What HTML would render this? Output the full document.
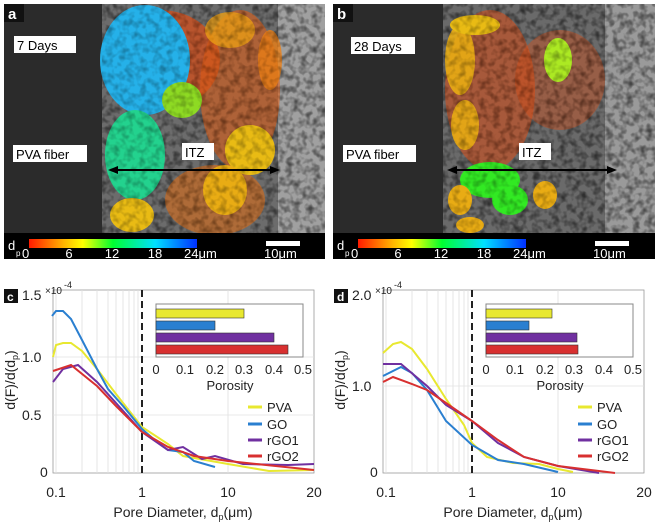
<!DOCTYPE html>
<html><head><meta charset="utf-8"><style>
html,body{margin:0;padding:0;background:#fff}
svg{display:block;font-family:"Liberation Sans",Arial,sans-serif}
</style></head><body>
<svg width="660" height="524" viewBox="0 0 660 524" xmlns="http://www.w3.org/2000/svg">
<defs>
<linearGradient id="cb" x1="0" x2="1" y1="0" y2="0">
<stop offset="0" stop-color="#ff1a00"/><stop offset="0.2" stop-color="#ffb000"/><stop offset="0.32" stop-color="#ffff00"/><stop offset="0.5" stop-color="#00ff30"/><stop offset="0.75" stop-color="#00e0ff"/><stop offset="1" stop-color="#0030ff"/>
</linearGradient>
<filter id="mot" x="0" y="0" width="1" height="1"><feTurbulence type="fractalNoise" baseFrequency="0.15" numOctaves="2" seed="3"/><feColorMatrix type="matrix" values="0 0 0 0 0  0 0 0 0 0  0 0 0 0 0  0 0 0 -2.2 1.3"/><feComposite in2="SourceGraphic" operator="in"/></filter>
</defs>
<rect width="660" height="524" fill="#fff"/>

<!-- Panel a -->
<g>
<rect x="4" y="4" width="321" height="229" fill="#6c6c6c"/>
<rect x="4" y="4" width="98" height="229" fill="#2b2b2b"/>
<rect x="278" y="4" width="47" height="229" fill="#a0a0a0"/>
<rect x="102" y="4" width="223" height="229" fill="#555" filter="url(#mot)" opacity="0.35"/>
<g opacity="0.95">
<ellipse cx="160" cy="60" rx="60" ry="50" fill="#e04a10" opacity="0.7"/>
<ellipse cx="240" cy="90" rx="40" ry="80" fill="#e05a10" opacity="0.6"/>
<ellipse cx="215" cy="200" rx="50" ry="35" fill="#e06a10" opacity="0.6"/>
<ellipse cx="145" cy="60" rx="45" ry="55" fill="#22b5f0"/>
<ellipse cx="135" cy="155" rx="30" ry="45" fill="#20d890"/>
<ellipse cx="182" cy="100" rx="20" ry="18" fill="#90e020"/>
<ellipse cx="250" cy="150" rx="25" ry="25" fill="#f0c010"/>
<ellipse cx="225" cy="190" rx="22" ry="25" fill="#f0b010"/>
<ellipse cx="132" cy="215" rx="22" ry="17" fill="#f0c010"/>
<ellipse cx="230" cy="30" rx="25" ry="18" fill="#f0a010" opacity="0.8"/>
<ellipse cx="270" cy="60" rx="12" ry="30" fill="#f08010" opacity="0.8"/>
</g>
<rect x="102" y="4" width="223" height="229" fill="#333" filter="url(#mot)" opacity="0.3"/>
<rect x="4" y="4" width="20" height="18" fill="#111"/>
<text x="8" y="19" font-size="15" font-weight="bold" fill="#fff">a</text>
<rect x="14" y="36" width="62" height="17" fill="#fff"/>
<text x="17" y="50" font-size="13" fill="#000">7 Days</text>
<rect x="13" y="145" width="74" height="17" fill="#fff"/>
<text x="16" y="159" font-size="13" fill="#000">PVA fiber</text>
<rect x="182" y="143" width="32" height="17" fill="#fff"/>
<text x="185" y="157" font-size="13" fill="#000">ITZ</text>
<line x1="114" y1="170" x2="274" y2="170" stroke="#000" stroke-width="2"/>
<polygon points="108,170 118,166 118,174" fill="#000"/><polygon points="280,170 270,166 270,174" fill="#000"/>
<rect x="4" y="233" width="321" height="26" fill="#000"/>
<rect x="29" y="239" width="168" height="9" fill="url(#cb)"/>
<text x="8" y="250" font-size="13" fill="#fff">d</text><text x="16" y="256" font-size="8" fill="#fff">p</text>
<text x="22" y="258" font-size="13" fill="#fff">0</text>
<text x="69" y="258" font-size="13" fill="#fff" text-anchor="middle">6</text>
<text x="112" y="258" font-size="13" fill="#fff" text-anchor="middle">12</text>
<text x="155" y="258" font-size="13" fill="#fff" text-anchor="middle">18</text>
<text x="184" y="258" font-size="13" fill="#fff">24μm</text>
<rect x="266" y="241" width="34" height="5" fill="#fff"/>
<text x="264" y="258" font-size="13" fill="#fff">10μm</text>
</g>

<!-- Panel b -->
<g>
<rect x="333" y="4" width="322" height="229" fill="#6a6a6a"/>
<rect x="333" y="4" width="110" height="229" fill="#2b2b2b"/>
<rect x="605" y="4" width="50" height="229" fill="#9a9a9a"/>
<rect x="443" y="4" width="212" height="229" fill="#555" filter="url(#mot)" opacity="0.35"/>
<g opacity="0.95">
<ellipse cx="490" cy="90" rx="45" ry="80" fill="#e04a10" opacity="0.55"/>
<ellipse cx="560" cy="80" rx="45" ry="50" fill="#e04a10" opacity="0.4"/>
<ellipse cx="460" cy="60" rx="15" ry="35" fill="#f0b010" opacity="0.9"/>
<ellipse cx="475" cy="25" rx="25" ry="10" fill="#f0c010"/>
<ellipse cx="558" cy="60" rx="14" ry="22" fill="#b0f020"/>
<ellipse cx="465" cy="125" rx="14" ry="25" fill="#f0b010" opacity="0.9"/>
<ellipse cx="490" cy="180" rx="30" ry="18" fill="#30f020"/>
<ellipse cx="510" cy="200" rx="18" ry="15" fill="#30f020"/>
<ellipse cx="460" cy="200" rx="12" ry="15" fill="#f0b010"/>
<ellipse cx="545" cy="195" rx="12" ry="14" fill="#f0b010"/>
<ellipse cx="470" cy="225" rx="14" ry="8" fill="#f0b010"/>
</g>
<rect x="443" y="4" width="212" height="229" fill="#333" filter="url(#mot)" opacity="0.3"/>
<rect x="333" y="4" width="20" height="18" fill="#111"/>
<text x="337" y="19" font-size="15" font-weight="bold" fill="#fff">b</text>
<rect x="351" y="37" width="64" height="17" fill="#fff"/>
<text x="354" y="51" font-size="13" fill="#000">28 Days</text>
<rect x="343" y="145" width="73" height="17" fill="#fff"/>
<text x="346" y="159" font-size="13" fill="#000">PVA fiber</text>
<rect x="519" y="143" width="32" height="17" fill="#fff"/>
<text x="522" y="157" font-size="13" fill="#000">ITZ</text>
<line x1="453" y1="170" x2="611" y2="170" stroke="#000" stroke-width="2"/>
<polygon points="447,170 457,166 457,174" fill="#000"/><polygon points="617,170 607,166 607,174" fill="#000"/>
<rect x="333" y="233" width="322" height="26" fill="#000"/>
<rect x="358" y="239" width="168" height="9" fill="url(#cb)"/>
<text x="337" y="250" font-size="13" fill="#fff">d</text><text x="345" y="256" font-size="8" fill="#fff">p</text>
<text x="351" y="258" font-size="13" fill="#fff">0</text>
<text x="398" y="258" font-size="13" fill="#fff" text-anchor="middle">6</text>
<text x="441" y="258" font-size="13" fill="#fff" text-anchor="middle">12</text>
<text x="484" y="258" font-size="13" fill="#fff" text-anchor="middle">18</text>
<text x="513" y="258" font-size="13" fill="#fff">24μm</text>
<rect x="595" y="241" width="34" height="5" fill="#fff"/>
<text x="593" y="258" font-size="13" fill="#fff">10μm</text>
</g>

<!-- Chart c -->
<g>
<rect x="53" y="290" width="261" height="183" fill="#fff" stroke="#999" stroke-width="0.8"/>
<g stroke="#e0e0e0" stroke-width="0.8">
<line x1="56" y1="290" x2="56" y2="473"/><line x1="82" y1="290" x2="82" y2="473"/><line x1="97" y1="290" x2="97" y2="473"/><line x1="108" y1="290" x2="108" y2="473"/><line x1="116" y1="290" x2="116" y2="473"/><line x1="123" y1="290" x2="123" y2="473"/><line x1="129" y1="290" x2="129" y2="473"/><line x1="134" y1="290" x2="134" y2="473"/><line x1="138" y1="290" x2="138" y2="473"/>
<line x1="228" y1="290" x2="228" y2="473"/>
<line x1="53" y1="415" x2="314" y2="415"/><line x1="53" y1="357" x2="314" y2="357"/>
</g>
<line x1="142" y1="290" x2="142" y2="473" stroke="#222" stroke-width="2" stroke-dasharray="7,4"/>
<g fill="none" stroke-width="2">
<polyline stroke="#e8e830" points="53,357 56,345 63,343 71,343 82,351 97,369 116,394 142,427 168,444 183,456 228,464 269,471 314,470"/>
<polyline stroke="#2a7fd0" points="52,316 56,311 63,311 71,319 82,340 97,369 108,389 123,406 142,429 157,442 168,450 183,452 194,461 215,467"/>
<polyline stroke="#7030a0" points="53,382 63,369 78,365 97,382 116,403 142,432 168,450 183,447 202,459 215,456 243,464 288,465 314,464"/>
<polyline stroke="#d83030" points="53,371 71,365 97,386 116,406 142,432 168,447 194,456 228,461 314,470"/>
</g>
<rect x="156" y="304" width="147" height="53" fill="#fff" stroke="#888"/>
<rect x="156" y="309" width="88" height="9" fill="#e8e830" stroke="#333" stroke-width="0.6"/>
<rect x="156" y="321" width="59" height="9" fill="#2a7fd0" stroke="#333" stroke-width="0.6"/>
<rect x="156" y="333" width="118" height="9" fill="#7030a0" stroke="#333" stroke-width="0.6"/>
<rect x="156" y="345" width="132" height="9" fill="#d83030" stroke="#333" stroke-width="0.6"/>
<g font-size="13" fill="#222" text-anchor="middle">
<text x="156" y="374">0</text><text x="185" y="374">0.1</text><text x="215" y="374">0.2</text><text x="244" y="374">0.3</text><text x="274" y="374">0.4</text><text x="303" y="374">0.5</text>
<text x="230" y="390">Porosity</text>
</g>
<g font-size="13" fill="#222">
<line x1="248" y1="407" x2="262" y2="407" stroke="#e8e830" stroke-width="3"/><text x="267" y="412">PVA</text>
<line x1="248" y1="424" x2="262" y2="424" stroke="#2a7fd0" stroke-width="3"/><text x="267" y="429">GO</text>
<line x1="248" y1="440" x2="262" y2="440" stroke="#7030a0" stroke-width="3"/><text x="267" y="445">rGO1</text>
<line x1="248" y1="456" x2="262" y2="456" stroke="#d83030" stroke-width="3"/><text x="267" y="461">rGO2</text>
</g>
<rect x="4" y="289" width="14" height="14" fill="#111"/><text x="7" y="301" font-size="12" font-weight="bold" fill="#fff">c</text>
<g font-size="14" fill="#222">
<text x="22" y="300">1.5</text><text x="45" y="294" font-size="10">×10</text><text x="64" y="288" font-size="9">-4</text>
<text x="22" y="362">1.0</text><text x="22" y="420">0.5</text><text x="40" y="477">0</text>
<text x="56" y="497" text-anchor="middle">0.1</text><text x="142" y="497" text-anchor="middle">1</text><text x="228" y="497" text-anchor="middle">10</text><text x="314" y="497" text-anchor="middle">20</text>
<text x="183" y="517" text-anchor="middle">Pore Diameter, d<tspan font-size="9" dy="3">p</tspan><tspan dy="-3">(μm)</tspan></text>
<text transform="translate(15,380) rotate(-90)" text-anchor="middle">d(F)/d(d<tspan font-size="9" dy="3">p</tspan><tspan dy="-3">)</tspan></text>
</g>
</g>

<!-- Chart d -->
<g>
<rect x="383" y="290" width="261" height="183" fill="#fff" stroke="#999" stroke-width="0.8"/>
<g stroke="#e0e0e0" stroke-width="0.8">
<line x1="386" y1="290" x2="386" y2="473"/><line x1="412" y1="290" x2="412" y2="473"/><line x1="427" y1="290" x2="427" y2="473"/><line x1="438" y1="290" x2="438" y2="473"/><line x1="446" y1="290" x2="446" y2="473"/><line x1="453" y1="290" x2="453" y2="473"/><line x1="459" y1="290" x2="459" y2="473"/><line x1="464" y1="290" x2="464" y2="473"/><line x1="468" y1="290" x2="468" y2="473"/>
<line x1="558" y1="290" x2="558" y2="473"/>
<line x1="383" y1="386" x2="644" y2="386"/>
</g>
<line x1="472" y1="290" x2="472" y2="473" stroke="#222" stroke-width="2" stroke-dasharray="7,4"/>
<g fill="none" stroke-width="2">
<polyline stroke="#e8e830" points="383,353 393,344 401,342 412,349 427,369 446,399 464,425 472,443 487,457 513,463 539,464 558,469 573,472"/>
<polyline stroke="#2a7fd0" points="383,376 401,367 412,373 427,390 446,421 472,445 498,460 524,464 558,472"/>
<polyline stroke="#7030a0" points="383,364 401,364 427,386 446,405 472,421 498,443 524,457 558,466 599,473"/>
<polyline stroke="#d83030" points="383,382 393,377 412,384 427,390 446,403 472,421 498,440 524,457 558,466 599,471 615,473"/>
</g>
<rect x="486" y="304" width="147" height="53" fill="#fff" stroke="#888"/>
<rect x="486" y="309" width="66" height="9" fill="#e8e830" stroke="#333" stroke-width="0.6"/>
<rect x="486" y="321" width="43" height="9" fill="#2a7fd0" stroke="#333" stroke-width="0.6"/>
<rect x="486" y="333" width="91" height="9" fill="#7030a0" stroke="#333" stroke-width="0.6"/>
<rect x="486" y="345" width="92" height="9" fill="#d83030" stroke="#333" stroke-width="0.6"/>
<g font-size="13" fill="#222" text-anchor="middle">
<text x="486" y="374">0</text><text x="515" y="374">0.1</text><text x="545" y="374">0.2</text><text x="574" y="374">0.3</text><text x="604" y="374">0.4</text><text x="633" y="374">0.5</text>
<text x="560" y="390">Porosity</text>
</g>
<g font-size="13" fill="#222">
<line x1="578" y1="407" x2="592" y2="407" stroke="#e8e830" stroke-width="3"/><text x="597" y="412">PVA</text>
<line x1="578" y1="424" x2="592" y2="424" stroke="#2a7fd0" stroke-width="3"/><text x="597" y="429">GO</text>
<line x1="578" y1="440" x2="592" y2="440" stroke="#7030a0" stroke-width="3"/><text x="597" y="445">rGO1</text>
<line x1="578" y1="456" x2="592" y2="456" stroke="#d83030" stroke-width="3"/><text x="597" y="461">rGO2</text>
</g>
<rect x="334" y="289" width="14" height="14" fill="#111"/><text x="337" y="301" font-size="12" font-weight="bold" fill="#fff">d</text>
<g font-size="14" fill="#222">
<text x="352" y="300">2.0</text><text x="375" y="294" font-size="10">×10</text><text x="394" y="288" font-size="9">-4</text>
<text x="352" y="391">1.0</text><text x="370" y="477">0</text>
<text x="386" y="497" text-anchor="middle">0.1</text><text x="472" y="497" text-anchor="middle">1</text><text x="558" y="497" text-anchor="middle">10</text><text x="644" y="497" text-anchor="middle">20</text>
<text x="513" y="517" text-anchor="middle">Pore Diameter, d<tspan font-size="9" dy="3">p</tspan><tspan dy="-3">(μm)</tspan></text>
<text transform="translate(345,380) rotate(-90)" text-anchor="middle">d(F)/d(d<tspan font-size="9" dy="3">p</tspan><tspan dy="-3">)</tspan></text>
</g>
</g>
</svg>
</body></html>
